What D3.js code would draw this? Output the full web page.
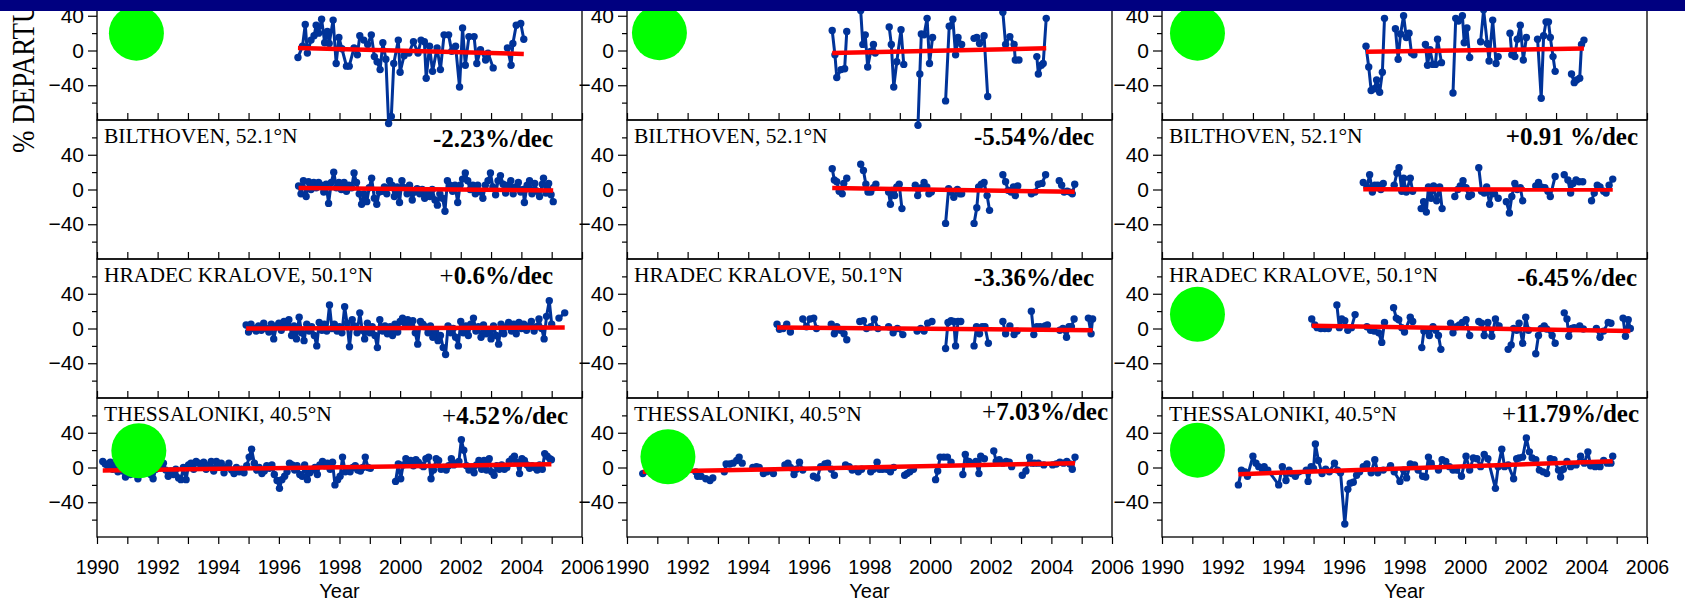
<!DOCTYPE html>
<html>
<head>
<meta charset="utf-8">
<script src="https://cdn.jsdelivr.net/npm/d3@7/dist/d3.min.js"></script>
<style>
  body { margin: 0; background: #fff; }
  svg { display: block; }
</style>
</head>
<body>
<script>
// ---- labels ----
var stationNames = ["", "BILTHOVEN, 52.1°N", "HRADEC KRALOVE, 50.1°N", "THESSALONIKI, 40.5°N"];
var trendLabels = [
  ["", "", ""],
  ["-2.23%/dec", "-5.54%/dec", "+0.91 %/dec"],
  ["+0.6%/dec", "-3.36%/dec", "-6.45%/dec"],
  ["+4.52%/dec", "+7.03%/dec", "+11.79%/dec"]
];
var yearLabels = [1990, 1992, 1994, 1996, 1998, 2000, 2002, 2004, 2006];
var yearMinor = [1990, 1991, 1992, 1993, 1994, 1995, 1996, 1997, 1998, 1999, 2000, 2001, 2002, 2003, 2004, 2005, 2006];
var yMajor = [-40, 0, 40];
var yMinor = [-60, -20, 20, 60];

// trend line value at first and last point of each series
var trendEnds = [
  [[3, -4], [-3, 2.5], [-1.5, 2.3]],
  [[1.8, -1.2], [1.8, -2.7], [0.3, 0]],
  [[0, 1.1], [1.2, -2], [3.3, -3]],
  [[-3.5, 3.8], [-5, 5], [-7.7, 7.2]]
];

// ---- series: [year, % departure], null = break in the line ----
var topL = [[1996.63,-8],[1996.78,5],[1996.87,30],[1996.94,-3],[1997.06,12],[1997.16,17],[1997.23,29],[1997.31,20],[1997.41,36],[1997.51,9],[1997.60,22],[1997.66,8],[1997.79,35],[1997.89,-15],[1997.98,15],[1998.08,2],[1998.23,-18],[1998.32,-18],[1998.48,3],[1998.59,-5],[1998.67,17],[1998.80,12],[1998.93,7],[1999.05,18],[1999.15,-7],[1999.24,-13],[1999.34,-22],[1999.43,9],[1999.53,-10],[1999.62,-84],[1999.71,-76],[1999.79,-15],[1999.94,12],[2000.00,-25],[2000.13,-6],[2000.29,-3],[2000.44,10],[2000.59,-3],[2000.69,12],[2000.80,10],[2000.86,-32],[2000.97,5],[2001.07,-24],[2001.22,3],[2001.33,-22],[2001.45,18],[2001.60,18],[2001.70,-1],[2001.83,5],[2001.96,-42],[2002.06,26],[2002.15,-17],[2002.27,16],[2002.44,16],[2002.53,-15],[2002.65,1],[2002.82,-11],[2002.90,-3],[2003.07,-20],null,[2003.54,3],[2003.66,-17],[2003.72,8],[2003.83,29],[2003.98,31],[2004.08,13]];

var topM = [[1996.77,23],[1996.86,-5],[1996.92,-31],[1997.06,-22],[1997.18,-21],[1997.25,22],null,[1997.71,46],[1997.78,7],[1997.86,18],[1997.94,-19],[1998.04,-1],[1998.13,7],[1998.19,-3],null,[1998.65,27],[1998.72,7],[1998.80,-42],[1998.90,-13],[1999.04,24],[1999.13,-16],null,[1999.60,-86],[1999.66,-27],[1999.71,19],[1999.80,18],[1999.90,37],[1999.98,-15],[2000.08,15],null,[2000.51,-58],[2000.63,28],[2000.75,36],[2000.84,-5],[2000.92,15],[2001.04,7],null,[2001.45,14],[2001.54,15],[2001.63,8],[2001.78,17],[2001.90,-53],null,[2002.40,44],[2002.49,7],[2002.63,16],[2002.77,7],[2002.81,-11],[2002.93,-11],null,[2003.52,-7],[2003.57,-27],[2003.67,-17],[2003.73,-15],[2003.83,37]];

var topR = [[1996.73,5],[1996.82,-19],[1996.90,-46],[1997.00,-44],[1997.08,-34],[1997.18,-48],[1997.27,-25],[1997.34,37],null,[1997.70,25],[1997.79,-10],[1997.87,19],[1997.97,40],[1998.06,15],[1998.15,20],[1998.23,-3],[1998.31,-5],null,[1998.69,7],[1998.76,-17],[1998.84,1],[1998.94,-16],[1999.02,-16],[1999.09,13],[1999.22,-14],null,[1999.60,-49],[1999.69,37],[1999.78,34],[1999.91,40],[1999.97,9],[2000.06,26],[2000.15,-8],null,[2000.51,10],[2000.61,47],[2000.73,8],[2000.79,-12],[2000.91,35],[2001.02,-15],[2001.09,-7],null,[2001.48,20],[2001.54,-5],[2001.64,-7],[2001.72,13],[2001.82,29],[2001.92,-11],[2002.02,15],null,[2002.39,13],[2002.51,-55],[2002.59,17],[2002.67,33],[2002.75,33],[2002.81,15],[2002.90,-7],[2002.97,-24],null,[2003.51,-27],[2003.60,-37],[2003.68,-34],[2003.78,-32],[2003.84,7],[2003.92,12]];

var biltL = [[1996.65,4],[1996.73,-5],[1996.81,10],[1996.90,-8],[1996.98,9],[1997.06,0],[1997.15,8],[1997.23,2],[1997.31,8],[1997.40,5],[1997.48,-3],[1997.56,6],[1997.64,-16],[1997.73,8],[1997.81,20],[1997.90,2],[1997.98,8],[1998.06,0],[1998.15,8],[1998.23,-2],[1998.31,5],[1998.40,2],[1998.48,19],[1998.56,8],[1998.65,-5],[1998.73,-17],[1998.81,-5],[1998.90,-14],[1998.98,2],[1999.06,13],[1999.15,-10],[1999.23,-17],[1999.31,-3],[1999.40,-2],[1999.48,3],[1999.56,-5],[1999.65,10],[1999.73,5],[1999.81,-8],[1999.90,3],[1999.98,-15],[2000.06,10],[2000.15,2],[2000.23,-5],[2000.31,5],[2000.40,-12],[2000.48,-3],[2000.56,1],[2000.65,-5],[2000.73,0],[2000.81,-10],[2000.90,-3],[2000.98,-8],[2001.06,0],[2001.15,-12],[2001.23,-18],[2001.31,-5],[2001.40,-10],[2001.48,-25],[2001.56,10],[2001.65,5],[2001.73,-2],[2001.81,5],[2001.90,-15],[2001.98,5],[2002.06,12],[2002.15,19],[2002.23,10],[2002.31,0],[2002.40,5],[2002.48,-5],[2002.56,5],[2002.65,-3],[2002.73,-10],[2002.81,5],[2002.90,10],[2002.98,19],[2003.06,3],[2003.15,-6],[2003.23,10],[2003.31,16],[2003.40,6],[2003.48,-4],[2003.56,5],[2003.65,10],[2003.73,-5],[2003.81,3],[2003.90,8],[2003.98,-3],[2004.06,0],[2004.10,-15],[2004.19,5],[2004.27,10],[2004.35,-5],[2004.44,7],[2004.52,-2],[2004.60,-8],[2004.69,6],[2004.73,13],[2004.81,-4],[2004.90,7],[2004.98,-6],[2005.05,-14]];

var biltM = [[1996.77,24],[1996.84,11],[1996.92,9],[1997.00,-2],[1997.10,-5],[1997.15,7],[1997.25,13],null,[1997.71,29],[1997.80,22],[1997.88,6],[1997.95,-3],[1998.04,-3],[1998.13,2],[1998.21,6],null,[1998.63,-3],[1998.69,-17],[1998.75,-1],[1998.83,-7],[1998.90,3],[1998.98,6],[1999.07,-22],null,[1999.51,5],[1999.59,-7],[1999.71,2],[1999.80,8],[1999.89,3],[1999.96,-5],[2000.04,-3],null,[2000.51,-39],[2000.61,1],[2000.69,-3],[2000.78,-9],[2000.90,0],[2000.98,-5],[2001.04,-5],null,[2001.45,-39],[2001.54,-21],[2001.60,3],[2001.69,6],[2001.78,8],[2001.88,-7],[2001.96,-24],null,[2002.40,17],[2002.49,9],[2002.57,-1],[2002.67,-3],[2002.75,3],[2002.81,-7],[2002.89,4],null,[2003.34,-5],[2003.46,-3],[2003.57,6],[2003.69,7],[2003.81,17],null,[2004.26,10],[2004.34,5],[2004.42,-3],[2004.52,-2],[2004.61,-3],[2004.69,-5],[2004.77,6]];

var biltR = [[1996.64,8],[1996.76,3],[1996.85,17],[1996.94,-3],[1997.02,5],[1997.12,5],[1997.22,0],[1997.30,7],null,[1997.66,5],[1997.75,19],[1997.82,25],[1997.91,-2],[1997.97,13],[1998.06,-3],[1998.19,13],[1998.27,-2],null,[1998.55,-22],[1998.63,-14],[1998.72,-26],[1998.79,3],[1998.88,-10],[1998.96,4],[1999.06,-13],[1999.16,3],[1999.24,-22],null,[1999.66,-8],[1999.76,0],[1999.84,4],[1999.93,10],[2000.03,2],[2000.12,-8],[2000.21,-6],null,[2000.45,25],[2000.54,-2],[2000.63,-4],[2000.71,3],[2000.81,-17],[2000.90,-4],[2000.97,-5],[2001.09,-10],null,[2001.36,-14],[2001.46,-27],[2001.54,-8],[2001.64,7],[2001.72,0],[2001.82,2],[2001.90,-13],null,[2002.33,4],[2002.42,8],[2002.51,3],[2002.63,2],[2002.73,-2],[2002.81,-8],[2002.97,15],null,[2003.27,17],[2003.39,11],[2003.48,-4],[2003.56,7],[2003.66,11],[2003.76,9],[2003.88,9],null,[2004.17,-13],[2004.26,-4],[2004.36,5],[2004.45,3],[2004.57,-2],[2004.65,-4],[2004.75,5],[2004.87,12]];

var hradL = [[1994.92,4],[1995.00,-4],[1995.08,5],[1995.17,0],[1995.25,-3],[1995.33,3],[1995.42,-2],[1995.50,6],[1995.58,0],[1995.67,-4],[1995.75,5],[1995.83,-12],[1995.92,3],[1996.00,6],[1996.08,-2],[1996.17,8],[1996.25,2],[1996.33,10],[1996.42,-8],[1996.50,3],[1996.58,-12],[1996.67,13],[1996.75,-5],[1996.83,-14],[1996.92,5],[1997.00,-3],[1997.08,2],[1997.17,-8],[1997.25,-20],[1997.33,7],[1997.42,-2],[1997.50,5],[1997.58,-3],[1997.67,27],[1997.75,0],[1997.83,5],[1997.92,-3],[1998.00,2],[1998.08,-5],[1998.17,25],[1998.25,6],[1998.33,-21],[1998.42,10],[1998.50,3],[1998.58,-5],[1998.67,18],[1998.75,-2],[1998.83,-12],[1998.92,6],[1999.00,-5],[1999.08,2],[1999.17,-8],[1999.25,-22],[1999.33,10],[1999.42,-3],[1999.50,3],[1999.58,-6],[1999.67,2],[1999.75,-8],[1999.83,5],[1999.92,-4],[2000.00,8],[2000.08,12],[2000.17,5],[2000.25,10],[2000.33,3],[2000.42,9],[2000.50,-5],[2000.58,-18],[2000.67,8],[2000.75,5],[2000.83,2],[2000.92,-5],[2001.00,3],[2001.08,-10],[2001.17,-3],[2001.25,-14],[2001.33,-8],[2001.42,-22],[2001.50,-30],[2001.58,3],[2001.67,-5],[2001.75,0],[2001.83,-10],[2001.92,-20],[2002.00,8],[2002.08,-5],[2002.17,3],[2002.25,-8],[2002.33,5],[2002.42,12],[2002.50,-3],[2002.58,2],[2002.67,-10],[2002.75,4],[2002.83,-6],[2002.92,-2],[2003.00,-12],[2003.08,3],[2003.17,-8],[2003.25,-18],[2003.33,5],[2003.42,-6],[2003.50,2],[2003.58,7],[2003.67,-3],[2003.75,5],[2003.83,-6],[2003.92,7],[2004.00,0],[2004.08,5],[2004.17,-2],[2004.25,3],[2004.33,8],[2004.42,-3],[2004.50,2],[2004.58,11],[2004.67,0],[2004.75,-12],[2004.83,14],[2004.92,32],[2005.00,5],null,[2005.24,12],[2005.43,18]];

var hradM = [[1994.95,5],[1995.03,-1],[1995.15,0],[1995.27,5],[1995.39,-4],null,[1995.80,11],[1995.92,2],[1996.04,11],[1996.16,12],[1996.25,0],null,[1996.74,5],[1996.84,-6],[1996.92,2],[1997.04,-2],[1997.16,-6],[1997.25,-13],null,[1997.68,8],[1997.80,9],[1997.90,0],[1998.04,2],[1998.16,11],[1998.28,0],null,[1998.63,2],[1998.78,-5],[1998.92,0],[1999.10,-7],null,[1999.57,-3],[1999.69,0],[1999.80,-3],[1999.92,6],[2000.06,8],null,[2000.51,-23],[2000.59,7],[2000.69,9],[2000.78,8],[2000.84,-20],[2000.92,8],[2001.01,8],null,[2001.45,-20],[2001.53,2],[2001.63,-6],[2001.72,2],[2001.81,2],[2001.92,-17],null,[2002.40,8],[2002.49,-6],[2002.63,3],[2002.77,-7],[2002.87,-3],null,[2003.34,20],[2003.42,-7],[2003.52,2],[2003.63,2],[2003.79,3],[2003.87,4],null,[2004.28,-2],[2004.38,0],[2004.50,-10],[2004.58,2],[2004.66,2],[2004.75,11],null,[2005.22,12],[2005.31,-6],[2005.36,11]];

var hradR = [[1994.94,11],[1995.04,4],[1995.12,1],[1995.24,0],[1995.37,0],[1995.49,0],null,[1995.77,27],[1995.85,1],[1995.93,11],[1996.03,9],[1996.13,-2],[1996.25,1],[1996.37,16],null,[1996.76,2],[1996.88,-2],[1997.00,-3],[1997.15,-5],[1997.25,-16],[1997.34,7],null,[1997.64,24],[1997.73,12],[1997.81,10],[1997.91,1],[1998.00,-4],[1998.19,13],[1998.27,8],null,[1998.57,-22],[1998.64,-3],[1998.72,-2],[1998.82,-8],[1998.94,2],[1999.03,-2],[1999.12,-8],[1999.20,-24],null,[1999.52,6],[1999.60,-5],[1999.72,2],[1999.81,4],[1999.91,7],[2000.03,10],[2000.15,-8],null,[2000.45,8],[2000.54,6],[2000.63,-8],[2000.75,7],[2000.88,-9],[2001.00,11],[2001.12,3],null,[2001.42,-24],[2001.52,-19],[2001.60,0],[2001.70,-2],[2001.78,6],[2001.90,-17],[2002.00,13],[2002.09,-2],null,[2002.33,-29],[2002.42,-8],[2002.51,0],[2002.61,3],[2002.69,-0.5],[2002.87,-8],[2002.97,-17],null,[2003.27,18],[2003.36,11],[2003.42,-9],[2003.52,0],[2003.60,1],[2003.78,3],[2003.90,-0.5],null,[2004.33,0],[2004.45,-10],[2004.57,-3],[2004.72,7],[2004.81,6],null,[2005.21,12],[2005.29,-9],[2005.38,10],[2005.45,0]];

var thesL = [[1990.19,7],[1990.27,4],[1990.35,2],[1990.44,6],[1990.52,-2],[1990.60,3],[1990.69,-5],[1990.77,2],[1990.85,-4],[1990.94,-11],[1991.02,-3],[1991.10,-8],[1991.19,2],[1991.27,-6],[1991.35,-13],[1991.44,-5],[1991.52,2],[1991.60,-6],[1991.69,3],[1991.77,-8],[1991.85,-13],[1991.94,-2],[1992.02,4],[1992.10,0],[1992.19,5],[1992.27,-3],[1992.35,-10],[1992.44,-4],[1992.52,-8],[1992.60,-2],[1992.69,-12],[1992.77,-14],[1992.85,0],[1992.94,-14],[1993.02,3],[1993.10,5],[1993.19,-2],[1993.27,7],[1993.35,5],[1993.44,2],[1993.52,6],[1993.60,-2],[1993.69,3],[1993.77,7],[1993.85,-4],[1993.94,7],[1994.02,3],[1994.10,5],[1994.19,-6],[1994.27,0],[1994.35,5],[1994.44,-3],[1994.52,-7],[1994.60,0],[1994.69,-5],[1994.77,-2],[1994.85,-6],[1994.94,2],[1995.02,12],[1995.10,21],[1995.19,5],[1995.27,-3],[1995.35,0],[1995.44,-7],[1995.52,-4],[1995.60,2],[1995.69,-1],[1995.77,3],[1995.85,-8],[1995.94,-15],[1996.02,-24],[1996.10,-14],[1996.19,-10],[1996.27,-5],[1996.35,5],[1996.44,3],[1996.52,-3],[1996.60,2],[1996.69,-8],[1996.77,-10],[1996.85,3],[1996.94,-14],[1997.02,-6],[1997.10,-3],[1997.19,0],[1997.27,-8],[1997.35,3],[1997.44,7],[1997.52,2],[1997.60,5],[1997.69,-2],[1997.77,6],[1997.85,-20],[1997.94,-14],[1998.02,-10],[1998.10,12],[1998.19,-5],[1998.27,-2],[1998.35,-5],[1998.44,0],[1998.52,2],[1998.60,-3],[1998.69,-4],[1998.77,0],[1998.85,12],[1998.94,0],[1999.02,-1],null,[1999.85,-16],[1999.94,4],[2000.02,-13],[2000.10,3],[2000.19,10],[2000.27,5],[2000.35,8],[2000.44,2],[2000.52,9],[2000.60,6],[2000.69,3],[2000.77,1],[2000.85,10],[2000.94,12],[2001.02,-13],[2001.10,-3],[2001.19,10],[2001.27,8],[2001.35,-2],[2001.44,0],[2001.52,-3],[2001.60,2],[2001.69,10],[2001.77,3],[2001.85,5],[2001.94,7],[2002.02,32],[2002.10,20],[2002.19,2],[2002.27,-3],[2002.35,0],[2002.44,-6],[2002.52,3],[2002.60,8],[2002.69,-2],[2002.77,8],[2002.85,-3],[2002.94,10],[2003.02,-5],[2003.10,-9],[2003.19,2],[2003.27,-2],[2003.35,3],[2003.44,-2],[2003.52,0],[2003.60,7],[2003.69,10],[2003.77,13],[2003.85,6],[2003.94,-7],[2004.02,10],[2004.10,8],[2004.19,3],[2004.27,-1],[2004.35,2],[2004.44,0],[2004.52,-3],[2004.60,3],[2004.69,-2],[2004.77,16],[2004.85,13],[2004.94,10],[2004.99,9]];

var thesM = [[1990.52,-7],[1990.68,-4],[1990.85,-2],[1991.00,3],null,[1991.45,0],[1991.60,-3],[1991.75,2],[1991.90,5],null,[1992.27,-5],[1992.33,-10],[1992.44,-10],[1992.60,-13],[1992.74,-15],[1992.83,-12],null,[1993.21,-5],[1993.27,4],[1993.39,4],[1993.50,5],[1993.62,8],[1993.70,12],[1993.80,5],null,[1994.15,0],[1994.27,1],[1994.36,0],[1994.50,-7],[1994.62,-5],[1994.83,-7],null,[1995.21,3],[1995.31,5],[1995.39,0],[1995.51,-8],[1995.59,-2],[1995.69,6],[1995.80,-3],null,[1996.15,-10],[1996.27,-12],[1996.39,1],[1996.53,4],[1996.62,5],[1996.74,-2],[1996.84,-9],null,[1997.21,3],[1997.33,1],[1997.43,-3],[1997.54,-2],[1997.63,-5],[1997.74,-2],null,[1998.04,-5],[1998.13,-2],[1998.25,6],[1998.33,-2],[1998.43,-2],[1998.57,-2],[1998.69,-5],[1998.80,0],null,[1999.16,-9],[1999.24,-7],[1999.33,-5],[1999.45,-2],null,[2000.18,-14],[2000.25,-4],[2000.33,12],[2000.45,12],[2000.57,12],[2000.69,6],null,[2001.08,-8],[2001.16,15],[2001.28,7],[2001.51,7],[2001.61,-7],[2001.67,13],[2001.79,10],null,[2002.10,19],[2002.18,7],[2002.28,9],[2002.40,5],[2002.51,7],[2002.61,6],[2002.69,1],null,[2003.04,-9],[2003.16,-4],[2003.28,12],[2003.36,5],[2003.45,5],[2003.57,5],[2003.75,3],null,[2004.04,3],[2004.16,4],[2004.28,6],[2004.40,5],[2004.51,7],[2004.61,4],[2004.69,-2],[2004.78,12]];

var thesR = [[1992.52,-20],[1992.62,-3],[1992.74,-5],[1992.82,-10],[1993.00,13],[1993.10,5],[1993.19,1],[1993.31,-2],[1993.37,1],[1993.49,-3],[1993.85,-20],[1993.97,1],[1994.09,-15],[1994.19,-3],[1994.28,-7],[1994.40,-10],[1994.76,-3],[1994.82,-16],[1994.92,1],[1995.00,-1],[1995.06,27],[1995.16,8],[1995.28,-7],[1995.40,-2],[1995.52,-5],[1995.69,5],[1995.79,-3],[1995.89,-6],[1996.03,-65],[1996.13,-25],[1996.21,-18],[1996.31,-17],[1996.42,-9],[1996.52,-5],[1996.64,1],[1996.76,4],[1996.90,-6],[1997.02,9],[1997.12,-6],[1997.30,-3],[1997.54,2],[1997.66,-5],[1997.85,-16],[1997.97,-3],[1998.07,-12],[1998.19,4],[1998.33,3],[1998.45,-3],[1998.60,-10],[1998.70,-11],[1998.79,12],[1998.88,5],[1999.12,-3],[1999.24,9],[1999.36,7],[1999.48,1],[1999.60,-3],[1999.72,-3],[1999.88,-10],[2000.03,13],[2000.15,-3],[2000.27,11],[2000.39,10],[2000.51,1],[2000.63,15],[2000.75,10],[2001.00,-24],[2001.09,1],[2001.21,21],[2001.30,1],[2001.42,3],[2001.60,-13],[2001.70,10],[2001.78,11],[2001.90,12],[2002.02,34],[2002.12,18],[2002.21,11],[2002.33,9],[2002.45,-3],[2002.57,-5],[2002.69,-7],[2002.81,10],[2002.93,9],[2003.08,-3],[2003.15,-11],[2003.24,-2],[2003.36,7],[2003.48,1],[2003.66,3],[2003.81,13],[2003.93,5],[2004.05,18],[2004.14,2],[2004.29,1],[2004.45,1],[2004.57,8],[2004.69,5],[2004.81,5],[2004.87,13]];

var series = [
  [topL, topM, topR],
  [biltL, biltM, biltR],
  [hradL, hradM, hradR],
  [thesL, thesM, thesR]
];

// green dots drawn over some panels: [row, col], year, value
var markerPanel = [[0, 0], [0, 1], [0, 2], [2, 2], [3, 0], [3, 1], [3, 2]];
var markerYear = [1991.3, 1991.07, 1991.17, 1991.17, 1991.38, 1991.35, 1991.17];
var markerValue = [20, 20.5, 20, 16.3, 19.3, 12.4, 20];

// ---- layout ----
var w = 1685;
var h = 602;
var colX = [97, 627, 1162];
var plotW = 485;
var rowY = [-19, 120, 259, 398];
var plotH = 139;
// right edge offset and baseline of the trend label, per panel
var trendDx = [[0, 0, 0], [-29, -18, -9], [-29, -18, -10], [-14, -4, -8]];
var trendDy = [[0, 0, 0], [27, 25, 25], [25, 27, 27], [26, 22, 24]];
// which trend labels have a light "+" sign
var thinPlus = [[0, 0, 0], [0, 0, 0], [1, 0, 0], [1, 1, 1]];

var blue = '#003399';
var sans = 'Liberation Sans, Arial, sans-serif';
var serif = 'Liberation Serif, Times New Roman, serif';

var svg = d3.select('body').append('svg')
  .attr('width', w)
  .attr('height', h);

var xs = colX.map(function(x0) {
  return d3.scaleLinear().domain([1990, 2006]).range([x0, x0 + plotW]);
});
var ys = rowY.map(function(y0) {
  return d3.scaleLinear().domain([-80, 80]).range([y0 + plotH, y0]);
});

var gAxes = svg.append('g');
var gData = svg.append('g');
var gText = svg.append('g');

for (var r = 0; r < 4; r++) {
  for (var c = 0; c < 3; c++) {
    var x = xs[c], y = ys[r];

    // frame
    gAxes.append('rect')
      .attr('x', colX[c]).attr('y', rowY[r])
      .attr('width', plotW).attr('height', plotH)
      .attr('fill', 'none').attr('stroke', '#000').attr('stroke-width', 1.3);

    // y axis
    var ya = gAxes.append('g').attr('transform', 'translate(' + colX[c] + ',0)')
      .call(d3.axisLeft(y).tickValues(yMajor).tickSize(9).tickPadding(4));
    ya.selectAll('text').style('font-family', sans).style('font-size', '21px').attr('fill', '#000');
    gAxes.append('g').attr('transform', 'translate(' + colX[c] + ',0)')
      .call(d3.axisLeft(y).tickValues(yMinor).tickSize(5).tickFormat(''));

    // x axis
    var xa;
    if (r < 3) {
      xa = gAxes.append('g').attr('transform', 'translate(0,' + (rowY[r] + plotH) + ')')
        .call(d3.axisBottom(x).tickValues(yearMinor).tickSize(-7).tickFormat(''));
    } else {
      xa = gAxes.append('g').attr('transform', 'translate(0,' + (rowY[r] + plotH) + ')')
        .call(d3.axisBottom(x).tickValues(yearMinor).tickSize(7).tickPadding(16)
          .tickFormat(function(d) { return yearLabels.indexOf(d) >= 0 ? d : ''; }));
      xa.selectAll('text').style('font-family', sans).style('font-size', '19.5px').attr('fill', '#000');
    }
    gAxes.selectAll('.domain').remove();
    gAxes.selectAll('.tick line').attr('stroke', '#000').attr('stroke-width', 1.2);

    // data
    var data = series[r][c];
    var line = d3.line()
      .defined(function(d) { return d !== null; })
      .x(function(d) { return x(d[0]); })
      .y(function(d) { return y(d[1]); });
    gData.append('path')
      .datum(data)
      .attr('d', line)
      .attr('fill', 'none')
      .attr('stroke', blue)
      .attr('stroke-width', 3)
      .attr('stroke-linejoin', 'round');
    gData.append('g').selectAll('circle')
      .data(data.filter(function(d) { return d !== null; }))
      .enter().append('circle')
      .attr('cx', function(d) { return x(d[0]); })
      .attr('cy', function(d) { return y(d[1]); })
      .attr('r', 3.7)
      .attr('fill', blue);

    // trend line
    var pts = data.filter(function(d) { return d !== null; });
    var ext = d3.extent(pts, function(d) { return d[0]; });
    gData.append('line')
      .attr('x1', x(ext[0])).attr('y1', y(trendEnds[r][c][0]))
      .attr('x2', x(ext[1])).attr('y2', y(trendEnds[r][c][1]))
      .attr('stroke', '#ff0000')
      .attr('stroke-width', 4.5)
      .attr('stroke-linecap', 'butt');

    // labels
    if (stationNames[r]) {
      gText.append('text')
        .attr('x', colX[c] + 7).attr('y', rowY[r] + 23)
        .style('font-family', serif).style('font-size', '21.5px')
        .text(stationNames[r]);
    }
    var lab = trendLabels[r][c];
    if (lab) {
      var t = gText.append('text')
        .attr('x', colX[c] + plotW + trendDx[r][c]).attr('y', rowY[r] + trendDy[r][c])
        .attr('text-anchor', 'end')
        .style('font-family', serif).style('font-size', '25px').style('font-weight', 'bold');
      if (thinPlus[r][c]) {
        t.append('tspan').style('font-weight', 'normal').text('+');
        t.append('tspan').text(lab.slice(1));
      } else {
        t.text(lab);
      }
    }
  }

  // x axis title
  if (r === 3) {
    colX.forEach(function(x0) {
      gText.append('text')
        .attr('x', x0 + plotW / 2).attr('y', 597.5)
        .attr('text-anchor', 'middle')
        .style('font-family', sans).style('font-size', '20px')
        .text('Year');
    });
  }
}

// green dots
svg.append('g').selectAll('circle')
  .data(markerPanel)
  .enter().append('circle')
  .attr('cx', function(d, i) { return xs[d[1]](markerYear[i]); })
  .attr('cy', function(d, i) { return ys[d[0]](markerValue[i]); })
  .attr('r', 27.5)
  .attr('fill', '#00ff00');

// y axis title, mostly cut off at the top
svg.append('text')
  .attr('transform', 'translate(34,153) scale(1.15,1) rotate(-90)')
  .style('font-family', serif).style('font-size', '27px')
  .text('% DEPARTURE');

// dark band across the top
svg.append('rect')
  .attr('x', 0).attr('y', 0)
  .attr('width', w).attr('height', 11)
  .attr('fill', '#000080');
</script>
</body>
</html>
